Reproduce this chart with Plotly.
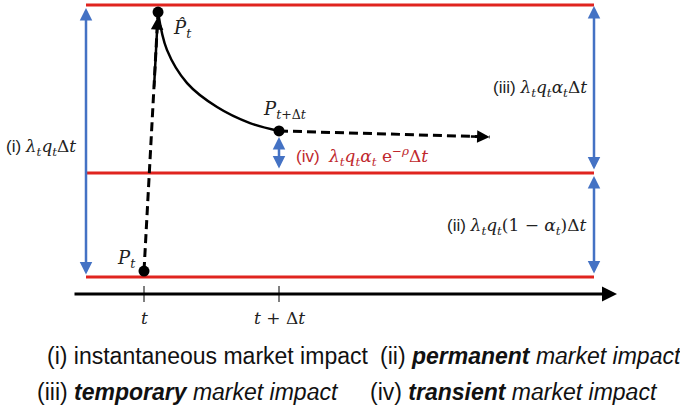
import plotly.graph_objects as go

# ---- data (model units: time in Δt, price in units of λ q Δt) ----
time_ticks = [0, 1]
time_tick_labels = ["<i>t</i>", "<i>t</i> + Δ<i>t</i>"]
price_levels = [0.0, 0.382, 1.0]          # pre-trade P_t, permanent level, peak P̂_t
jump_x = [0.0, 0.104]                      # P_t -> P̂_t (dashed jump)
jump_y = [0.022, 0.974]
decay_x = [0.104, 0.170, 0.319, 0.541, 0.785, 1.0]   # P̂_t -> P_{t+Δt}
decay_y = [0.974, 0.835, 0.713, 0.625, 0.566, 0.537]
tail_x = [1.0, 2.56]                       # continuation after t+Δt
tail_y = [0.537, 0.515]
point_x = [0.0, 0.104, 1.0]
point_y = [0.022, 0.974, 0.537]

W, H = 680, 412
X0, XS = 144.0, 135.0        # screen pixel of t, px per Δt
Y0, YS = 277.0, 272.0        # screen pixel of P_t level, px per unit


def px(x):
    return (x - X0) / XS


def py(y):
    return (Y0 - y) / YS


RED = "#E0241F"
DRED = "#C0282D"
BLUE = "#4472C4"
MATH = "DejaVu Serif"
SANS = "Liberation Sans"

fig = go.Figure()

# red horizontal levels
xl, xr = px(86), px(594)
for lv in price_levels:
    fig.add_trace(go.Scatter(x=[xl, xr], y=[lv, lv], mode="lines",
                             line=dict(color=RED, width=3), hoverinfo="skip"))

# dashed jump
fig.add_trace(go.Scatter(x=jump_x, y=jump_y, mode="lines",
                         line=dict(color="black", width=3, dash="9px,5px"), hoverinfo="skip"))
# decay curve
fig.add_trace(go.Scatter(x=decay_x, y=decay_y, mode="lines", line_shape="spline",
                         line=dict(color="black", width=2.5), hoverinfo="skip"))
# dashed tail
fig.add_trace(go.Scatter(x=tail_x, y=tail_y, mode="lines",
                         line=dict(color="black", width=3, dash="9px,5px"), hoverinfo="skip"))
# dots
fig.add_trace(go.Scatter(x=point_x, y=point_y, mode="markers",
                         marker=dict(color="black", size=11), hoverinfo="skip"))

ann = []


def arrow(x0, y0, x1, y1, color, width, both=False, ss=0, es=0, size=1.0):
    ann.append(dict(x=x1, y=y1, ax=x0, ay=y0, xref="x", yref="y", axref="x", ayref="y",
                    text="", showarrow=True, arrowhead=2, arrowsize=size, arrowwidth=width,
                    arrowcolor=color, arrowside="end+start" if both else "end",
                    standoff=es, startstandoff=ss, startarrowhead=2, startarrowsize=size))


# arrowheads for the dashed lines
arrow(jump_x[1] - 0.03, jump_y[1] - 0.28, jump_x[1], jump_y[1], "black", 2.5, es=5)
arrow(tail_x[1] - 0.15, tail_y[1] + 0.0021, tail_x[1], tail_y[1], "black", 2.5)

# blue measurement arrows
arrow(xl, price_levels[0], xl, price_levels[2], BLUE, 2.5, both=True, ss=1, es=3)
arrow(xr, price_levels[1], xr, price_levels[2], BLUE, 2.5, both=True, ss=2, es=1)
arrow(xr, price_levels[0], xr, price_levels[1], BLUE, 2.5, both=True, ss=2, es=3)
arrow(point_x[2], price_levels[1], point_x[2], point_y[2], BLUE, 2.5, both=True, ss=3, es=6)

# time axis
arrow(px(73), py(294), px(617), py(294), "black", 3)
for t in time_ticks:
    fig.add_shape(type="line", x0=t, x1=t, y0=py(286), y1=py(302),
                  line=dict(color="black", width=1))
for t, lab in zip(time_ticks, time_tick_labels):
    ann.append(dict(x=t, y=py(318), xref="x", yref="y", text=lab, showarrow=False,
                    font=dict(family=MATH, size=17, color="#222")))


def label(x, y, text, anchor="left", color="#222", size=17):
    ann.append(dict(x=px(x), y=py(y), xref="x", yref="y", text=text, showarrow=False,
                    xanchor=anchor, yanchor="middle",
                    font=dict(family=MATH, size=size, color=color)))


def s(t):
    return "<span style='font-family:%s'>%s</span>" % (SANS, t)


label(4, 147, s("(i) ") + "<i>λ<sub>t</sub>q<sub>t</sub></i>Δ<i>t</i>")
label(171, 29, "<i>P̂<sub>t</sub></i>", size=18)
label(261, 110, "<i>P<sub>t+</sub></i><sub>Δ<i>t</i></sub>", size=18)
label(589, 88, s("(iii) ") + "<i>λ<sub>t</sub>q<sub>t</sub>α<sub>t</sub></i>Δ<i>t</i>", anchor="right")
label(294, 156, s("(iv)  ") + "<i>λ<sub>t</sub>q<sub>t</sub>α<sub>t</sub></i> e<sup>−<i>ρ</i></sup>Δ<i>t</i>",
      color=DRED)
label(589, 226, s("(ii) ") + "<i>λ<sub>t</sub>q<sub>t</sub></i>(1 − <i>α<sub>t</sub></i>)Δ<i>t</i>", anchor="right")
label(138, 259, "<i>P<sub>t</sub></i>", anchor="right", size=18)


# bottom explanations
def foot(x, y, text):
    ann.append(dict(x=x / W, y=1 - y / H, xref="paper", yref="paper", text=text,
                    showarrow=False, xanchor="left", yanchor="middle",
                    font=dict(family=SANS, size=23, color="#111")))


foot(45, 356, "(i) instantaneous market impact")
foot(378, 356, "(ii) <b><i>permanent</i></b> <i>market impact</i>")
foot(35, 392, "(iii) <b><i>temporary</i></b> <i>market impact</i>")
foot(368, 392, "(iv) <b><i>transient</i></b> <i>market impact</i>")

fig.update_layout(
    width=W, height=H, margin=dict(l=0, r=0, t=0, b=0),
    paper_bgcolor="white", plot_bgcolor="white", showlegend=False,
    xaxis=dict(range=[px(0), px(W)], visible=False, fixedrange=True),
    yaxis=dict(range=[py(H), py(0)], visible=False, fixedrange=True),
    annotations=ann,
)

fig.write_html("out.html", config={"displayModeBar": False, "staticPlot": True},
               post_script="document.body.style.margin='0';document.body.style.overflow='hidden';")
